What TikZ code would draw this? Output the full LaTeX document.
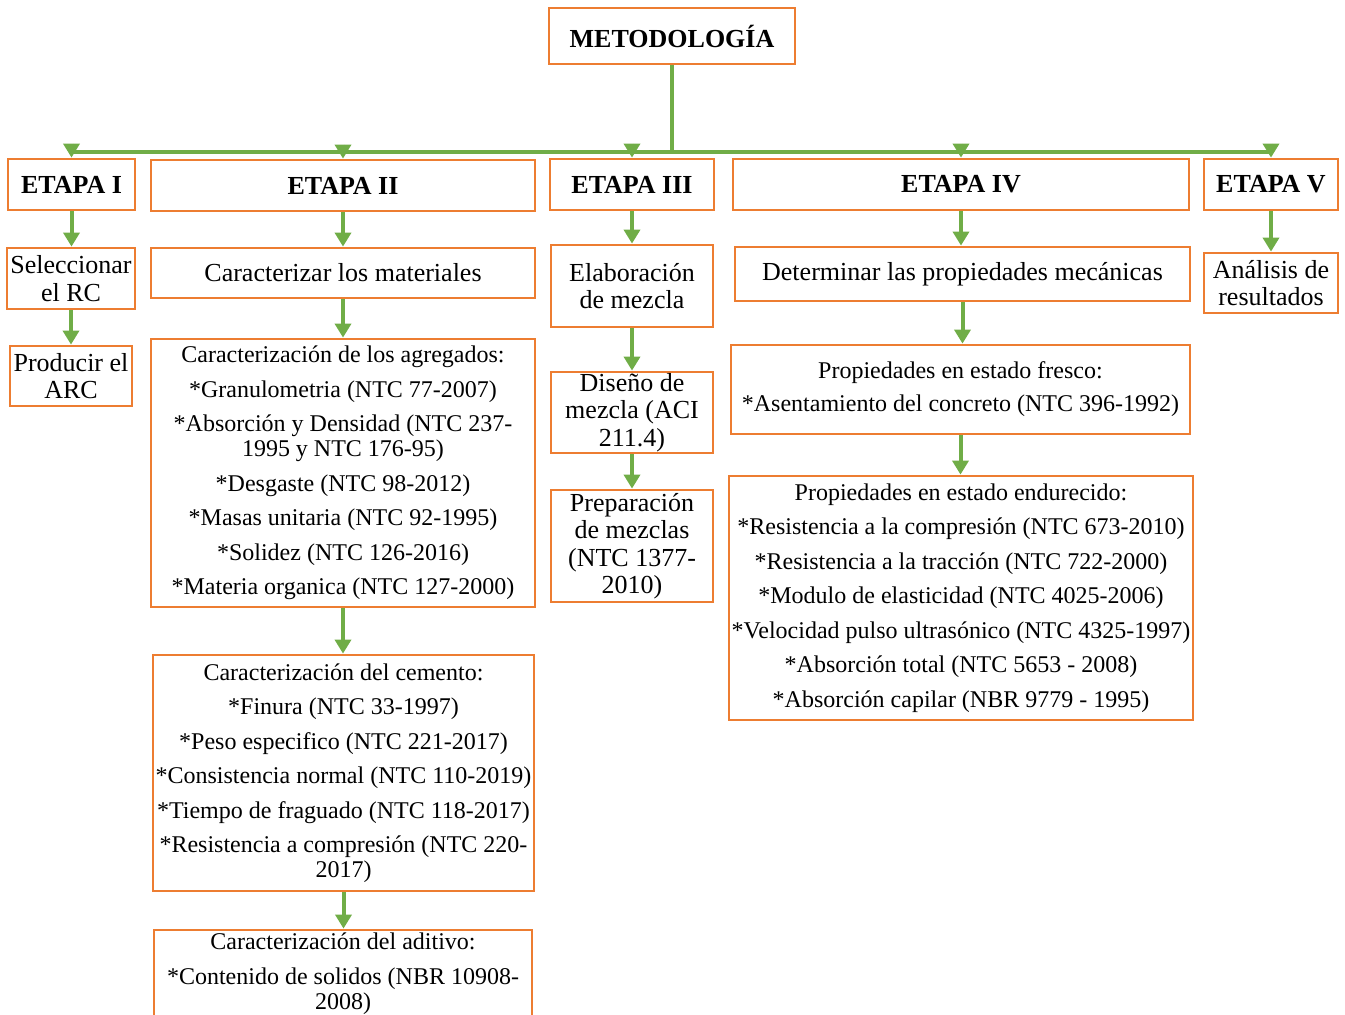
\documentclass[tikz,border=0pt]{standalone}
\usepackage{fontspec}
\setmainfont{Liberation Serif}
\usetikzlibrary{arrows.meta}
\definecolor{naranja}{HTML}{ED7D31}
\definecolor{verde}{HTML}{70AD47}

\tikzstyle{caja} = [rectangle, draw=naranja, line width=1.4pt, inner sep=0pt, align=center]
\tikzstyle{eb} = [caja, font=\fontsize{13}{14}\selectfont\bfseries, minimum height=25.5pt]
\tikzstyle{sb} = [caja, font=\fontsize{13}{13.75}\selectfont]
\tikzstyle{db} = [caja, font=\fontsize{12}{12.5}\selectfont]
\tikzstyle{ln} = [draw=verde, line width=2pt]
\tikzstyle{ar} = [ln, -{Triangle[length=7pt, width=8pt]}]

\begin{document}
\begin{tikzpicture}[x=0.5pt, y=-0.5pt]
\useasboundingbox (0,0) rectangle (1345,1014);

% titulo y etapas
\node[eb, minimum width=123pt, minimum height=28pt] (meto) at (672,36) {METODOLOGÍA};
\node[eb, minimum width=63.5pt] (e1) at (71.5,184.5) {ETAPA I};
\node[eb, minimum width=192pt] (e2) at (343,185.5) {ETAPA II};
\node[eb, minimum width=82pt] (e3) at (632,184.5) {ETAPA III};
\node[eb, minimum width=228pt] (e4) at (961,184.5) {ETAPA IV};
\node[eb, minimum width=67pt] (e5) at (1271,184.5) {ETAPA V};

% pasos
\node[sb, minimum width=64pt, minimum height=30.5pt] (s1) at (71,278.5) {Seleccionar\\el RC};
\node[sb, minimum width=61pt, minimum height=30pt] (p1) at (71,376) {Producir el\\ARC};
\node[sb, minimum width=192pt, minimum height=25pt] (s2) at (343,273) {Caracterizar los materiales};
\node[sb, minimum width=81pt, minimum height=41pt] (s3) at (632,286) {Elaboración\\de mezcla};
\node[sb, minimum width=81pt, minimum height=40.5pt] (dis) at (632,412.5) {Diseño de\\mezcla (ACI\\211.4)};
\node[sb, minimum width=81pt, minimum height=56pt] (pre) at (632,546) {Preparación\\de mezclas\\(NTC 1377-\\2010)};
\node[sb, minimum width=227.5pt, minimum height=27pt] (s4) at (962.5,274) {Determinar las propiedades mecánicas};
\node[sb, minimum width=67pt, minimum height=30pt] (s5) at (1271,283) {Análisis de\\resultados};

% ensayos
\node[db, minimum width=192pt, minimum height=134pt] (agr) at (343,473) {Caracterización de los agregados:\\[4.75pt]
  *Granulometria (NTC 77-2007)\\[4.75pt]
  *Absorción y Densidad (NTC 237-\\1995 y NTC 176-95)\\[4.75pt]
  *Desgaste (NTC 98-2012)\\[4.75pt]
  *Masas unitaria (NTC 92-1995)\\[4.75pt]
  *Solidez (NTC 126-2016)\\[4.75pt]
  *Materia organica (NTC 127-2000)};
\node[db, minimum width=190.5pt, minimum height=118pt] (cem) at (343.5,773) {Caracterización del cemento:\\[4.75pt]
  *Finura (NTC 33-1997)\\[4.75pt]
  *Peso especifico (NTC 221-2017)\\[4.75pt]
  *Consistencia normal (NTC 110-2019)\\[4.75pt]
  *Tiempo de fraguado (NTC 118-2017)\\[4.75pt]
  *Resistencia a compresión (NTC 220-\\2017)};
\node[db, minimum width=189pt, minimum height=43.5pt] (adi) at (343,973.5) {Caracterización del aditivo:\\[4.75pt]
  *Contenido de solidos (NBR 10908-\\2008)};
\node[db, minimum width=229.5pt, minimum height=44.5pt] (fre) at (960.5,389.5) {Propiedades en estado fresco:\\[4pt]
  *Asentamiento del concreto (NTC 396-1992)};
\node[db, minimum width=232pt, minimum height=122pt] (endu) at (961,598) {Propiedades en estado endurecido:\\[4.75pt]
  *Resistencia a la compresión (NTC 673-2010)\\[4.75pt]
  *Resistencia a la tracción (NTC 722-2000)\\[4.75pt]
  *Modulo de elasticidad (NTC 4025-2006)\\[4.75pt]
  *Velocidad pulso ultrasónico (NTC 4325-1997)\\[4.75pt]
  *Absorción total (NTC 5653 - 2008)\\[4.75pt]
  *Absorción capilar (NBR 9779 - 1995)};

% conectores
\coordinate (bus) at (672,152);
\draw[ln] (meto.south) -- (bus);
\draw[ln] (e1.north |- bus) -- (e5.north |- bus);
\foreach \n in {e1,e2,e3,e4,e5}
  \draw[ar] ([yshift=7pt]\n.north) -- (\n.north);
\foreach \a/\b in {e1/s1, s1/p1, e2/s2, s2/agr, agr/cem, cem/adi, e3/s3, s3/dis, dis/pre, e4/s4, s4/fre, fre/endu, e5/s5}
  \draw[ar] (\a.south) -- (\a.south |- \b.north);
\end{tikzpicture}
\end{document}
